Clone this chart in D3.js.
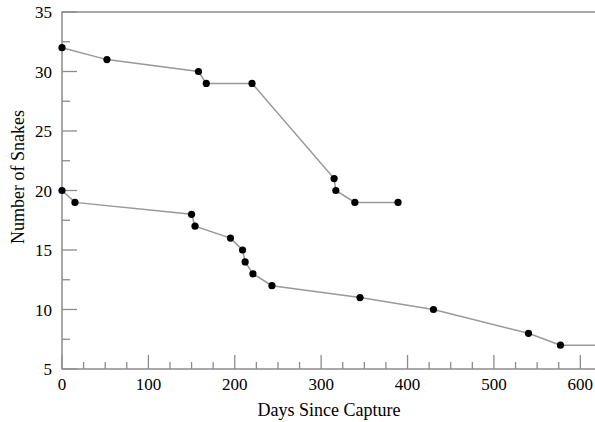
<!DOCTYPE html>
<html>
<head>
<meta charset="utf-8">
<script src="https://cdn.jsdelivr.net/npm/d3@7"></script>
<style>
  body { margin: 0; background: #fff; }
  svg { font-family: "Liberation Serif", "DejaVu Serif", serif; }
</style>
</head>
<body>
<svg id="chart"></svg>
<script>
// group 1 (upper curve)
var days1 = [0, 52, 158, 167, 220, 315, 317, 339, 389];
var snakes1 = [32, 31, 30, 29, 29, 21, 20, 19, 19];
// group 2 (lower curve)
var days2 = [0, 15, 150, 154, 195, 209, 212, 221, 243, 345, 430, 540, 577];
var snakes2 = [20, 19, 18, 17, 16, 15, 14, 13, 12, 11, 10, 8, 7];
// the lower line runs on flat past its last point
var tailDay = 617;

var xTicks = [0, 100, 200, 300, 400, 500, 600];
var yTicks = [5, 10, 15, 20, 25, 30, 35];

function init(){
    var width = 595, height = 422;
    var left = 62, right = 595, top = 12, bottom = 369;

    var svg = d3.select('svg#chart')
      .attr('width', width)
      .attr('height', height);

    var x = d3.scaleLinear().domain([0, tailDay]).range([left, right]);
    var y = d3.scaleLinear().domain([5, 35]).range([bottom, top]);

    var axisColor = '#8c8c8c';

    // minor + major ticks, pointing inward
    var xMinor = d3.range(0, tailDay, 25);
    svg.append('g').selectAll('line')
      .data(xMinor)
      .enter().append('line')
        .attr('x1', d => x(d)).attr('x2', d => x(d))
        .attr('y1', bottom)
        .attr('y2', d => d % 100 === 0 ? bottom - 14 : bottom - 7)
        .attr('stroke', axisColor).attr('stroke-width', 1.3);

    var yMinor = d3.range(5, 35.01, 2.5);
    svg.append('g').selectAll('line')
      .data(yMinor)
      .enter().append('line')
        .attr('y1', d => y(d)).attr('y2', d => y(d))
        .attr('x1', left)
        .attr('x2', d => d % 5 === 0 ? left + 15 : left + 8)
        .attr('stroke', axisColor).attr('stroke-width', 1.3);

    // frame: left, bottom, top
    svg.append('path')
      .attr('d', `M${right},${top}H${left}V${bottom}H${right}`)
      .attr('fill', 'none')
      .attr('stroke', axisColor)
      .attr('stroke-width', 1.5);

    // tick labels
    svg.append('g').selectAll('text')
      .data(xTicks)
      .enter().append('text')
        .attr('x', d => x(d))
        .attr('y', bottom + 21)
        .attr('text-anchor', 'middle')
        .style('font-size', '17px')
        .text(d => d);

    svg.append('g').selectAll('text')
      .data(yTicks)
      .enter().append('text')
        .attr('x', 52)
        .attr('y', d => y(d) + 6)
        .attr('text-anchor', 'end')
        .style('font-size', '17px')
        .text(d => d);

    // axis titles
    svg.append('text')
      .attr('x', 329).attr('y', 416)
      .attr('text-anchor', 'middle')
      .style('font-size', '18px')
      .text('Days Since Capture');

    svg.append('text')
      .attr('transform', 'translate(24,177) rotate(-90)')
      .attr('text-anchor', 'middle')
      .style('font-size', '18px')
      .text('Number of Snakes');

    var line = d3.line().x(d => x(d[0])).y(d => y(d[1]));

    var pts1 = d3.zip(days1, snakes1);
    var pts2 = d3.zip(days2, snakes2);
    var path2 = pts2.concat([[tailDay, snakes2[snakes2.length - 1]]]);

    [pts1, path2].forEach(function(p){
        svg.append('path')
          .attr('d', line(p))
          .attr('fill', 'none')
          .attr('stroke', '#999')
          .attr('stroke-width', 1.5);
    });

    [pts1, pts2].forEach(function(p){
        svg.append('g').selectAll('circle')
          .data(p)
          .enter().append('circle')
            .attr('cx', d => x(d[0]))
            .attr('cy', d => y(d[1]))
            .attr('r', 3.6)
            .attr('fill', '#000');
    });
}

init();
</script>
</body>
</html>
